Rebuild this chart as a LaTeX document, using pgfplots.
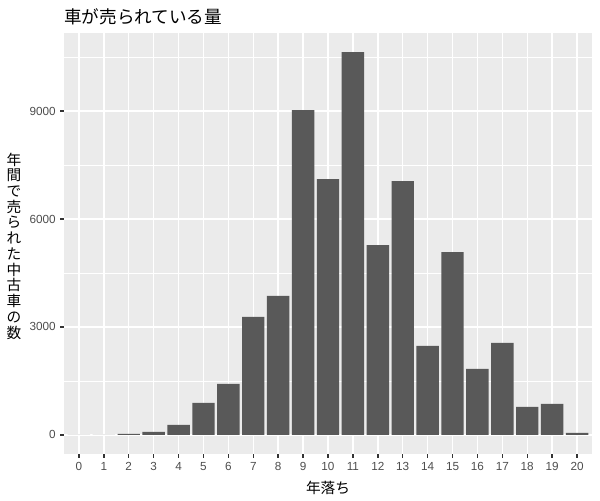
\documentclass[border=0pt]{standalone}
\usepackage{pgfplots}
\pgfplotsset{compat=1.18}
\usepackage{fontspec}
\setmainfont{Liberation Sans}
\newfontfamily\jp{Noto Sans CJK JP}
\definecolor{panelbg}{HTML}{EBEBEB}
\definecolor{barfill}{HTML}{595959}
\definecolor{ticktext}{HTML}{4D4D4D}
\definecolor{tickline}{HTML}{333333}

\begin{document}
\begin{tikzpicture}[x=1pt,y=1pt]
  \useasboundingbox (0,0) rectangle (450,375);
  \begin{axis}[
    at={(48pt,34.5pt)}, anchor=south west,
    scale only axis, width=396pt, height=315.75pt,
    xmin=-0.6, xmax=20.6, ymin=-532, ymax=11172,
    axis background/.style={fill=panelbg},
    axis line style={draw=none},
    xtick={0,...,20}, ytick={0,3000,6000,9000},
    minor ytick={1500,4500,7500,10500},
    grid=both,
    major grid style={white, line width=1.07pt},
    minor grid style={white, line width=0.53pt},
    tick align=outside, tick pos=left,
    major tick length=2.75pt, minor tick length=0pt,
    major tick style={tickline, line width=1.07pt},
    tick label style={font=\fontsize{8.8}{10}\selectfont, text=ticktext},
    /pgf/number format/assume math mode=true,
    scaled y ticks=false,
    yticklabel style={/pgf/number format/1000 sep={}},
  ]
    % 年落ちごとの台数
    \addplot[ybar, bar width=0.9, fill=barfill, draw=none] coordinates {
      (0,0) (1,0) (2,30) (3,85) (4,278) (5,889) (6,1417) (7,3278)
      (8,3861) (9,9028) (10,7111) (11,10640) (12,5278) (13,7055)
      (14,2472) (15,5083) (16,1833) (17,2555) (18,778) (19,861) (20,55)
    };
  \end{axis}
  \node[anchor=west, font=\jp\fontsize{13.2}{14}\selectfont, inner sep=0pt] at (48,362.25) {車が売られている量};
  \node[font=\jp\fontsize{11}{13}\selectfont, inner sep=0pt] at (246,9) {年落ち};
  \node[align=center, font=\jp\fontsize{11}{11.8}\selectfont, inner sep=0pt] at (10.5,190.5)
    {年\\間\\で\\売\\ら\\れ\\た\\中\\古\\車\\の\\数};
\end{tikzpicture}
\end{document}
